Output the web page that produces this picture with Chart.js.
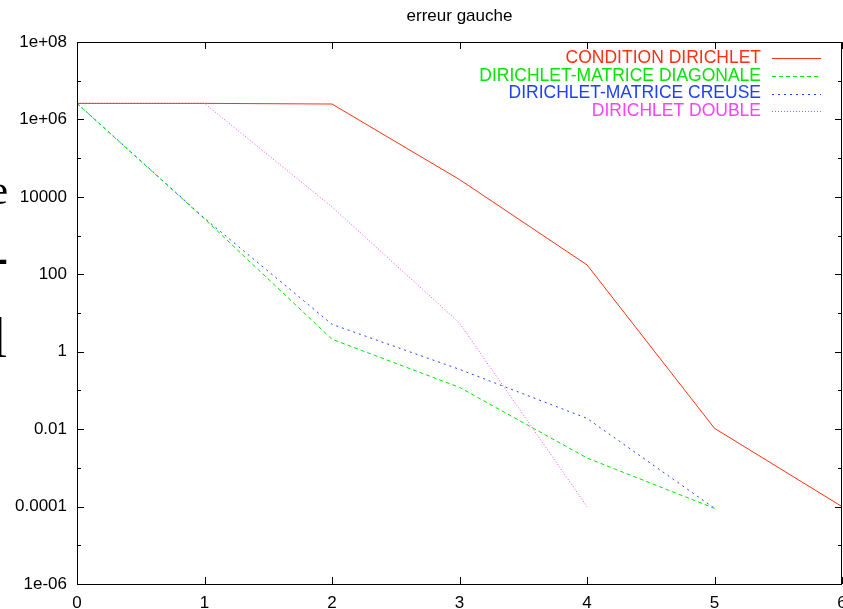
<!DOCTYPE html>
<html>
<head>
<meta charset="utf-8">
<script src="https://cdn.jsdelivr.net/npm/chart.js@4/dist/chart.umd.min.js"></script>
<style>
  html, body { margin: 0; padding: 0; background: #fff; overflow: hidden; }
  #wrap { position: relative; width: 843px; height: 609px; }
  #chart { position: absolute; left: 0; top: 0; }
  .stray { position: absolute; font-family: "Liberation Serif", serif; line-height: 1; color: #000; }
</style>
</head>
<body>
<div id="wrap">
  <canvas id="chart" width="843" height="609"></canvas>
  <span class="stray" style="left:-11px; top:168px; font-size:43px;">e</span>
  <span class="stray" style="left:-11px; top:227px; font-size:58px;">-</span>
  <span class="stray" style="left:-9px; top:309px; font-size:58px;">l</span>
</div>
<script>
// données
const xValues = [0, 1, 2, 3, 4, 5, 6];
const seriesLabels = ['CONDITION DIRICHLET', 'DIRICHLET-MATRICE DIAGONALE', 'DIRICHLET-MATRICE CREUSE', 'DIRICHLET DOUBLE'];
const conditionDirichlet = [2.6e6, 2.6e6, 2.5e6, 2.8e4, 175, 0.0105, 1.0e-4];
const matriceDiagonale = [2.6e6, 2700, 2.1, 0.12, 0.0018, 9e-5];
const matriceCreuse = [2.6e6, 2800, 5.1, 0.35, 0.019, 9e-5];
const dirichletDouble = [2.6e6, 2.6e6, 5500, 5.5, 1e-4];

const titleText = 'erreur gauche';
const yTickValues = [1e-6, 1e-5, 1e-4, 1e-3, 1e-2, 1e-1, 1, 10, 100, 1000, 1e4, 1e5, 1e6, 1e7, 1e8];
const yTickLabels = ['1e-06', '', '0.0001', '', '0.01', '', '1', '', '100', '', '10000', '', '1e+06', '', '1e+08'];
const xTickLabels = ['0', '1', '2', '3', '4', '5', '6'];

const colors = ['#ff3010', '#00e600', '#2040ff', '#ff40ff'];
const dashes = [[], [4, 3], [2, 4], [1, 2]];
const FONT = '"Liberation Sans", Arial, sans-serif';

function toPoints(values) {
    return values.map((v, i) => ({ x: xValues[i], y: v }));
}

Chart.defaults.font.family = FONT;
Chart.defaults.font.size = 17;
Chart.defaults.color = '#000';

// cadre + graduations intérieures façon gnuplot, titre et légende
const framePlugin = {
    id: 'frame',
    afterDatasetsDraw(chart) {
        const { ctx, chartArea: a, scales } = chart;
        ctx.save();
        ctx.strokeStyle = '#000';
        ctx.lineWidth = 1;
        ctx.beginPath();
        yTickValues.forEach((v, i) => {
            const y = Math.round(scales.y.getPixelForValue(v)) + 0.5;
            const len = yTickLabels[i] ? 7 : 4;
            ctx.moveTo(a.left, y); ctx.lineTo(a.left + len, y);
            ctx.moveTo(a.right, y); ctx.lineTo(a.right - len, y);
        });
        xValues.forEach(v => {
            const x = Math.round(scales.x.getPixelForValue(v)) + 0.5;
            ctx.moveTo(x, a.top); ctx.lineTo(x, a.top + 7);
            ctx.moveTo(x, a.bottom); ctx.lineTo(x, a.bottom - 7);
        });
        ctx.stroke();
        ctx.strokeRect(Math.round(a.left) + 0.5, Math.round(a.top) + 0.5,
            Math.round(a.right - a.left) - 1, Math.round(a.bottom - a.top));
        ctx.restore();
    },
    afterDraw(chart) {
        const { ctx, chartArea: a } = chart;
        ctx.save();
        ctx.textBaseline = 'middle';

        // titre centré sur la zone de tracé
        ctx.font = '17px ' + FONT;
        ctx.fillStyle = '#000';
        ctx.textAlign = 'center';
        ctx.fillText(titleText, (a.left + a.right) / 2, 16);

        // légende alignée à droite, échantillon de trait après le texte
        ctx.font = '17.5px ' + FONT;
        ctx.textAlign = 'right';
        chart.data.datasets.forEach((ds, i) => {
            const y = a.top + 16 + i * 17.8;
            ctx.fillStyle = ds.borderColor;
            ctx.fillText(ds.label, a.right - 81, y);
            ctx.strokeStyle = ds.borderColor;
            ctx.lineWidth = 1;
            ctx.setLineDash(ds.borderDash);
            ctx.beginPath();
            ctx.moveTo(a.right - 70, Math.round(y) + 0.5);
            ctx.lineTo(a.right - 21, Math.round(y) + 0.5);
            ctx.stroke();
        });
        ctx.restore();
    }
};

const seriesValues = [conditionDirichlet, matriceDiagonale, matriceCreuse, dirichletDouble];

new Chart(document.getElementById('chart'), {
    type: 'line',
    data: {
        datasets: seriesValues.map((vals, i) => ({
            label: seriesLabels[i],
            data: toPoints(vals),
            borderColor: colors[i],
            borderDash: dashes[i],
            borderWidth: 1,
            pointRadius: 0,
            tension: 0,
            fill: false,
        })),
    },
    options: {
        responsive: false,
        animation: false,
        layout: { padding: { left: 0, right: 1, top: 42, bottom: 0 } },
        plugins: {
            legend: { display: false },
            tooltip: { enabled: false },
            title: { display: false },
        },
        scales: {
            x: {
                type: 'linear',
                min: 0,
                max: 6,
                grid: { display: false, drawTicks: false },
                border: { display: false },
                ticks: {
                    stepSize: 1,
                    padding: 9,
                    maxRotation: 0,
                    autoSkip: false,
                    callback: (v) => xTickLabels[v] ?? '',
                },
                afterFit(scale) {
                    scale.height = 25;
                    scale.paddingLeft = 0;
                    scale.paddingRight = 0;
                },
            },
            y: {
                type: 'logarithmic',
                min: 1e-6,
                max: 1e8,
                grid: { display: false, drawTicks: false },
                border: { display: false },
                afterBuildTicks(scale) {
                    scale.ticks = yTickValues.map(v => ({ value: v }));
                },
                ticks: {
                    padding: 10,
                    autoSkip: false,
                    callback: (v, i) => yTickLabels[i],
                },
                afterFit(scale) {
                    scale.width = 77;
                    scale.paddingTop = 0;
                    scale.paddingBottom = 0;
                },
            },
        },
    },
    plugins: [framePlugin],
});
</script>
</body>
</html>
